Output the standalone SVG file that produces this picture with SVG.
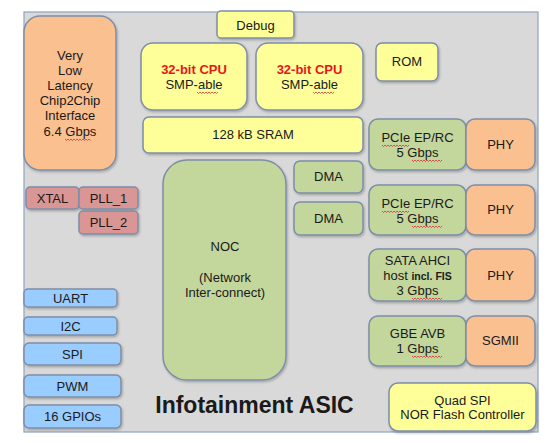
<svg xmlns="http://www.w3.org/2000/svg" width="555" height="443" viewBox="0 0 555 443">
<defs>
<style>
text{font-family:"Liberation Sans",Arial,sans-serif;font-size:13px;fill:#1a1a1a;text-anchor:middle}
.b{stroke:#7d8ea8;stroke-width:1.5;filter:url(#sh)}
.y{fill:#ffff99}
.o{fill:#fac090}
.g{fill:#c3d69b}
.r{fill:#d99694}
.u{fill:#99ccff}
.red{fill:#e8161b;font-weight:bold}
.sq{fill:none;stroke:#e03030;stroke-width:0.8}
</style>
<filter id="sh" x="-10%" y="-10%" width="130%" height="130%">
<feDropShadow dx="1" dy="1.5" stdDeviation="1" flood-color="#000" flood-opacity="0.25"/>
</filter>
</defs>
<rect x="0" y="0" width="555" height="443" fill="#ffffff"/>
<rect id="asic" x="24" y="12" width="514" height="420" fill="#d9d9d9" stroke="#8ea3c2" stroke-width="1.2"/>
<g id="connectors"></g>
<g id="c2c"><rect class="b o" x="24" y="16" width="92" height="154" rx="16"/>
<text x="70" y="60">Very</text><text x="70" y="75">Low</text><text x="70" y="90">Latency</text><text x="70" y="105">Chip2Chip</text><text x="70" y="120">Interface</text><text x="70" y="136">6.4 Gbps</text>
<path class="sq" d="M65 139 l1.5 1.5 l1.5 -1.5 l1.5 1.5 l1.5 -1.5 l1.5 1.5 l1.5 -1.5 l1.5 1.5 l1.5 -1.5 l1.5 1.5 l1.5 -1.5 l1.5 1.5 l1.5 -1.5 l1.5 1.5 l1.5 -1.5 l1.5 1.5 l1.5 -1.5 l1.5 1.5"/></g>
<g id="debug"><rect class="b y" x="217" y="11" width="77" height="27" rx="4"/><text x="255.5" y="30">Debug</text></g>
<g id="cpu1"><rect class="b y" x="141" y="43" width="106" height="67" rx="12"/>
<text class="red" x="194" y="74">32-bit CPU</text><text x="194" y="89">SMP-able</text>
<path class="sq" d="M197 92 l1.5 1.5 l1.5 -1.5 l1.5 1.5 l1.5 -1.5 l1.5 1.5 l1.5 -1.5 l1.5 1.5 l1.5 -1.5 l1.5 1.5 l1.5 -1.5 l1.5 1.5 l1.5 -1.5 l1.5 1.5 l1.5 -1.5"/></g>
<g id="cpu2"><rect class="b y" x="256" y="43" width="107" height="67" rx="12"/>
<text class="red" x="309.5" y="74">32-bit CPU</text><text x="309.5" y="89">SMP-able</text>
<path class="sq" d="M313 92 l1.5 1.5 l1.5 -1.5 l1.5 1.5 l1.5 -1.5 l1.5 1.5 l1.5 -1.5 l1.5 1.5 l1.5 -1.5 l1.5 1.5 l1.5 -1.5 l1.5 1.5 l1.5 -1.5 l1.5 1.5 l1.5 -1.5"/></g>
<g id="rom"><rect class="b y" x="376" y="43" width="62" height="38" rx="6"/><text x="407" y="66">ROM</text></g>
<g id="sram"><rect class="b y" x="143" y="117" width="220" height="36" rx="6"/><text x="253" y="139">128 kB SRAM</text></g>
<g id="noc"><rect class="b g" x="163" y="160" width="123" height="220" rx="24"/>
<text x="225" y="251">NOC</text><text x="225" y="282">(Network</text><text x="225" y="297">Inter-connect)</text></g>
<g id="dma1"><rect class="b g" x="294" y="161" width="69" height="32" rx="6"/><text x="328.5" y="181">DMA</text></g>
<g id="dma2"><rect class="b g" x="294" y="202" width="69" height="33" rx="6"/><text x="328.5" y="223">DMA</text></g>
<g id="pcie1"><rect class="b g" x="369" y="119" width="97" height="51" rx="9"/>
<text x="417.5" y="142">PCIe EP/RC</text><text x="417.5" y="157">5 Gbps</text>
<path class="sq" d="M382 145 l1.5 1.5 l1.5 -1.5 l1.5 1.5 l1.5 -1.5 l1.5 1.5 l1.5 -1.5 l1.5 1.5 l1.5 -1.5 l1.5 1.5 l1.5 -1.5 l1.5 1.5 l1.5 -1.5 l1.5 1.5 l1.5 -1.5 l1.5 1.5 l1.5 -1.5 l1.5 1.5 l1.5 -1.5"/>
<path class="sq" d="M412 160 l1.5 1.5 l1.5 -1.5 l1.5 1.5 l1.5 -1.5 l1.5 1.5 l1.5 -1.5 l1.5 1.5 l1.5 -1.5 l1.5 1.5 l1.5 -1.5 l1.5 1.5 l1.5 -1.5 l1.5 1.5 l1.5 -1.5 l1.5 1.5 l1.5 -1.5 l1.5 1.5 l1.5 -1.5 l1.5 1.5 l1.5 -1.5"/></g>
<g id="phy1"><rect class="b o" x="466" y="119" width="69" height="51" rx="9"/><text x="500.5" y="149">PHY</text></g>
<g id="pcie2"><rect class="b g" x="369" y="185" width="97" height="50" rx="9"/>
<text x="417.5" y="208">PCIe EP/RC</text><text x="417.5" y="223">5 Gbps</text>
<path class="sq" d="M382 211 l1.5 1.5 l1.5 -1.5 l1.5 1.5 l1.5 -1.5 l1.5 1.5 l1.5 -1.5 l1.5 1.5 l1.5 -1.5 l1.5 1.5 l1.5 -1.5 l1.5 1.5 l1.5 -1.5 l1.5 1.5 l1.5 -1.5 l1.5 1.5 l1.5 -1.5 l1.5 1.5 l1.5 -1.5"/>
<path class="sq" d="M412 226 l1.5 1.5 l1.5 -1.5 l1.5 1.5 l1.5 -1.5 l1.5 1.5 l1.5 -1.5 l1.5 1.5 l1.5 -1.5 l1.5 1.5 l1.5 -1.5 l1.5 1.5 l1.5 -1.5 l1.5 1.5 l1.5 -1.5 l1.5 1.5 l1.5 -1.5 l1.5 1.5 l1.5 -1.5 l1.5 1.5 l1.5 -1.5"/></g>
<g id="phy2"><rect class="b o" x="466" y="185" width="69" height="50" rx="9"/><text x="500.5" y="214">PHY</text></g>
<g id="sata"><rect class="b g" x="369" y="249" width="97" height="52" rx="9"/>
<text x="417.5" y="265">SATA AHCI</text><text x="417.5" y="280">host <tspan font-weight="bold" font-size="10.5">incl. FIS</tspan></text><text x="417.5" y="295">3 Gbps</text>
<path class="sq" d="M412 298 l1.5 1.5 l1.5 -1.5 l1.5 1.5 l1.5 -1.5 l1.5 1.5 l1.5 -1.5 l1.5 1.5 l1.5 -1.5 l1.5 1.5 l1.5 -1.5 l1.5 1.5 l1.5 -1.5 l1.5 1.5 l1.5 -1.5 l1.5 1.5 l1.5 -1.5 l1.5 1.5 l1.5 -1.5 l1.5 1.5 l1.5 -1.5"/></g>
<g id="phy3"><rect class="b o" x="466" y="249" width="69" height="52" rx="9"/><text x="500.5" y="280">PHY</text></g>
<g id="gbe"><rect class="b g" x="369" y="316" width="97" height="50" rx="9"/>
<text x="417.5" y="338">GBE AVB</text><text x="417.5" y="353">1 Gbps</text>
<path class="sq" d="M412 356 l1.5 1.5 l1.5 -1.5 l1.5 1.5 l1.5 -1.5 l1.5 1.5 l1.5 -1.5 l1.5 1.5 l1.5 -1.5 l1.5 1.5 l1.5 -1.5 l1.5 1.5 l1.5 -1.5 l1.5 1.5 l1.5 -1.5 l1.5 1.5 l1.5 -1.5 l1.5 1.5 l1.5 -1.5 l1.5 1.5 l1.5 -1.5"/></g>
<g id="sgmii"><rect class="b o" x="466" y="316" width="69" height="50" rx="9"/><text x="500.5" y="345">SGMII</text></g>
<g id="qspi"><rect class="b y" x="389" y="383" width="147" height="48" rx="9"/>
<text x="462.5" y="405">Quad SPI</text><text x="462.5" y="419">NOR Flash Controller</text></g>
<g id="xtal"><rect class="b r" x="26" y="187" width="53" height="22" rx="4"/><text x="52.5" y="202.5">XTAL</text></g>
<g id="pll1"><rect class="b r" x="79" y="187" width="59" height="22" rx="4"/><text x="108.5" y="202.5">PLL_1</text></g>
<g id="pll2"><rect class="b r" x="79" y="211" width="59" height="23" rx="4"/><text x="108.5" y="227">PLL_2</text></g>
<g id="uart"><rect class="b u" x="24" y="289" width="93" height="18" rx="4"/><text x="70.5" y="302.5">UART</text></g>
<g id="i2c"><rect class="b u" x="24" y="317" width="93" height="18" rx="4"/><text x="70.5" y="330.5">I2C</text></g>
<g id="spi"><rect class="b u" x="24" y="343" width="97" height="22" rx="5"/><text x="72.5" y="358.5">SPI</text></g>
<g id="pwm"><rect class="b u" x="24" y="375" width="97" height="22" rx="5"/><text x="72.5" y="390.5">PWM</text></g>
<g id="gpio"><rect class="b u" x="24" y="405" width="97" height="23" rx="5"/><text x="72.5" y="421">16 GPIOs</text></g>
<text x="254.5" y="413" font-size="23" font-weight="bold" style="font-size:23px">Infotainment ASIC</text>
</svg>
